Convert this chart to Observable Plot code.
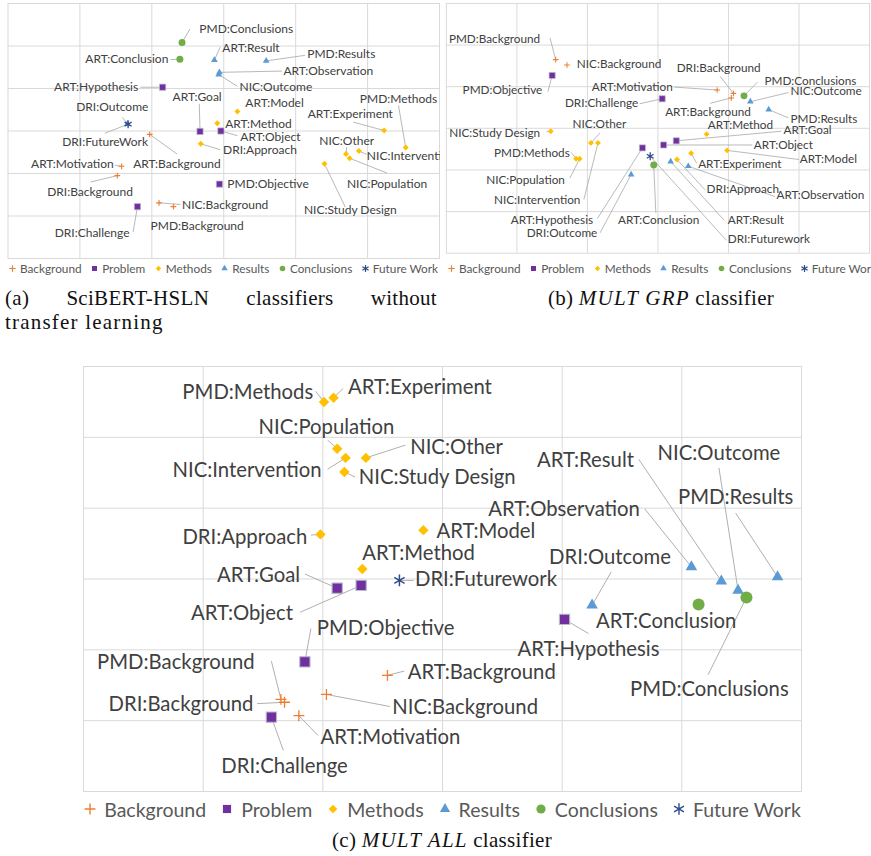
<!DOCTYPE html>
<html><head><meta charset="utf-8">
<script src="https://cdn.jsdelivr.net/npm/d3@7"></script>
<script src="https://cdn.jsdelivr.net/npm/@observablehq/plot@0.6"></script>
<style>
body{margin:0;background:#fff;}
#root{position:relative;width:871px;height:856px;overflow:hidden;font-family:Lato,sans-serif;}
.panel{position:absolute;overflow:hidden;}
.legend{position:absolute;display:flex;justify-content:center;align-items:center;color:#595959;white-space:nowrap;}
.legend .item{display:flex;align-items:center;}
.cap{position:absolute;font-family:"Liberation Serif",serif;color:#111;white-space:nowrap;line-height:24px;}
.cap i{letter-spacing:1.2px;}
</style></head><body><div id="root"></div>
<script>
// ---- data ----
const names = ["ART:Background","ART:Motivation","ART:Hypothesis","ART:Goal","ART:Object","ART:Method","ART:Model","ART:Experiment","ART:Observation","ART:Result","ART:Conclusion",
  "DRI:Background","DRI:Challenge","DRI:Approach","DRI:Outcome","DRI:Futurework",
  "NIC:Background","NIC:Population","NIC:Intervention","NIC:Study Design","NIC:Other","NIC:Outcome",
  "PMD:Background","PMD:Objective","PMD:Methods","PMD:Results","PMD:Conclusions"];
const groups = ["Background","Background","Problem","Problem","Problem","Methods","Methods","Methods","Results","Results","Conclusions",
  "Background","Problem","Methods","Results","Future Work",
  "Background","Methods","Methods","Methods","Methods","Results",
  "Background","Problem","Methods","Results","Conclusions"];
const categories = ["Background","Problem","Methods","Results","Conclusions","Future Work"];

// (a) SciBERT-HSLN without transfer learning
const xA = [1.97,1.58,2.15,2.67,2.96,2.91,3.19,5.23,2.94,2.87,2.39, 1.52,1.80,2.68,1.66,1.67, 2.10,4.75,4.88,4.40,4.70,2.93, 2.30,2.94,5.53,3.59,2.42];
const yA = [2.92,2.17,4.03,2.99,3.00,3.18,3.46,3.01,4.38,4.67,4.69, 1.95,1.22,2.70,3.17,3.16, 1.31,2.36,2.53,2.23,2.46,4.33, 1.22,1.75,2.61,4.65,5.08];
// (b) MULT GRP
const xB = [4.04,3.84,2.78,3.26,3.08,3.69,3.98,3.47,3.43,3.18,2.94, 4.07,3.06,3.27,2.62,2.89, 1.71,1.89,2.15,1.48,2.05,4.31, 1.55,1.50,1.84,4.57,4.22];
const yB = [3.73,3.92,2.53,2.70,2.60,2.86,2.47,2.40,2.09,2.20,2.12, 3.84,3.71,2.25,1.89,2.33, 4.52,2.27,2.65,2.93,2.65,3.64, 4.65,4.27,2.27,3.45,3.78];
// (c) MULT ALL
const xC = [2.54,1.80,4.02,2.12,2.32,2.33,2.84,2.09,5.08,5.33,5.14, 1.68,1.57,1.98,4.25,2.64, 2.03,2.12,2.19,2.18,2.36,5.47, 1.65,1.85,2.01,5.80,5.54];
const yC = [1.64,1.07,2.43,2.87,2.91,3.14,3.69,5.56,3.17,2.97,2.64, 1.26,1.05,3.63,2.63,2.98, 1.37,4.84,4.71,4.51,4.71,2.84, 1.30,1.83,5.50,3.03,2.74];

// ---- label placement (data units): [labelX, labelY, anchor, leaderEndX, leaderEndY, text?] ----
const layoutA = {
 "ART:Background":[2.35,2.21,"middle",2.35,2.46],
 "ART:Motivation":[1.47,2.21,"end",1.49,2.19],
 "ART:Hypothesis":[1.81,4.02,"end",1.84,4.03],
 "ART:Goal":[2.63,3.79,"middle",2.66,3.64],
 "ART:Object":[3.23,2.85,"start",3.19,2.89],
 "ART:Method":[3.02,3.15,"start",null,null],
 "ART:Model":[3.30,3.65,"start",null,null],
 "ART:Experiment":[4.76,3.39,"middle",4.80,3.21],
 "ART:Observation":[3.83,4.40,"start",3.81,4.41],
 "ART:Result":[2.98,4.96,"start",2.95,4.97],
 "ART:Conclusion":[2.23,4.68,"end",2.26,4.68],
 "DRI:Background":[1.14,1.55,"middle",1.15,1.80],
 "DRI:Challenge":[1.69,0.59,"end",1.74,0.62],
 "DRI:Approach":[2.99,2.54,"start",2.95,2.56],
 "DRI:Outcome":[1.45,3.55,"middle",1.59,3.32],
 "DRI:Futurework":[1.35,2.73,"middle",1.35,2.95,"DRI:FutureWork"],
 "NIC:Background":[2.42,1.25,"start",2.40,1.27],
 "NIC:Population":[5.27,1.76,"middle",5.27,2.01],
 "NIC:Intervention":[4.99,2.40,"start",4.99,2.45],
 "NIC:Study Design":[4.76,1.13,"middle",4.69,1.21],
 "NIC:Other":[4.71,2.75,"middle",4.71,2.62],
 "NIC:Outcome":[3.22,4.02,"start",3.19,4.05],
 "PMD:Background":[2.63,0.75,"middle",null,null],
 "PMD:Objective":[3.05,1.74,"start",null,null],
 "PMD:Methods":[5.43,3.74,"middle",5.43,3.60],
 "PMD:Results":[4.16,4.80,"start",4.13,4.78],
 "PMD:Conclusions":[2.66,5.39,"start",2.53,5.40]
};
const layoutB = {
 "ART:Background":[3.71,3.39,"middle",3.74,3.60],
 "ART:Motivation":[3.21,3.98,"end",3.23,3.99],
 "ART:Hypothesis":[2.08,0.80,"end",2.14,0.83],
 "ART:Goal":[4.78,2.96,"start",4.75,2.93],
 "ART:Object":[4.36,2.59,"start",4.34,2.60],
 "ART:Method":[4.17,3.08,"middle",null,null],
 "ART:Model":[5.01,2.26,"start",5.00,2.25],
 "ART:Experiment":[3.57,2.14,"start",3.55,2.16],
 "ART:Observation":[4.68,1.39,"start",4.66,1.36],
 "ART:Result":[3.99,0.80,"start",3.94,0.79],
 "ART:Conclusion":[3.01,0.80,"middle",2.97,0.97],
 "DRI:Background":[3.86,4.45,"middle",3.88,4.25],
 "DRI:Challenge":[2.72,3.60,"end",2.74,3.59],
 "DRI:Approach":[3.69,1.53,"start",3.67,1.52],
 "DRI:Outcome":[2.14,0.47,"end",2.18,0.49],
 "DRI:Futurework":[3.99,0.33,"start",3.97,0.31],
 "NIC:Background":[1.85,4.54,"start",null,null],
 "NIC:Population":[1.68,1.76,"end",1.75,1.80],
 "NIC:Intervention":[1.90,1.27,"end",1.95,1.29],
 "NIC:Study Design":[1.33,2.89,"end",1.42,2.92],
 "NIC:Other":[2.17,3.11,"middle",2.18,2.89],
 "NIC:Outcome":[4.88,3.88,"start",4.85,3.86],
 "PMD:Background":[1.33,5.15,"end",1.47,5.17],
 "PMD:Objective":[1.36,3.91,"end",1.44,3.88],
 "PMD:Methods":[1.75,2.40,"end",1.77,2.42],
 "PMD:Results":[4.88,3.22,"start",4.85,3.25],
 "PMD:Conclusions":[4.51,4.12,"start",4.41,4.11]
};
const layoutC = {
 "ART:Background":[2.71,1.68,"start",2.68,1.70],
 "ART:Motivation":[1.98,0.76,"start",1.96,0.79],
 "ART:Hypothesis":[4.22,2.01,"middle",4.22,2.23],
 "ART:Goal":[1.81,3.05,"end",1.85,3.07],
 "ART:Object":[1.75,2.51,"end",1.81,2.53],
 "ART:Method":[2.80,3.36,"middle",null,null],
 "ART:Model":[2.95,3.67,"start",null,null],
 "ART:Experiment":[2.21,5.71,"start",2.17,5.69],
 "ART:Observation":[4.65,3.98,"end",4.69,3.99],
 "ART:Result":[4.60,4.68,"end",4.64,4.69],
 "ART:Conclusion":[4.87,2.40,"middle",null,null],
 "DRI:Background":[1.42,1.23,"end",1.45,1.24],
 "DRI:Challenge":[1.68,0.35,"middle",1.67,0.58],
 "DRI:Approach":[1.87,3.59,"end",1.90,3.62],
 "DRI:Outcome":[4.40,3.31,"middle",4.41,3.10],
 "DRI:Futurework":[2.77,2.99,"start",2.76,2.98],
 "NIC:Background":[2.58,1.19,"start",2.56,1.20],
 "NIC:Population":[2.03,5.14,"middle",2.04,4.96],
 "NIC:Intervention":[1.99,4.53,"end",2.04,4.55],
 "NIC:Study Design":[2.30,4.44,"start",2.27,4.44],
 "NIC:Other":[2.73,4.86,"start",2.69,4.89],
 "NIC:Outcome":[5.31,4.77,"middle",5.31,4.57],
 "PMD:Background":[1.43,1.82,"end",1.57,1.84],
 "PMD:Objective":[1.95,2.30,"start",1.90,2.30],
 "PMD:Methods":[1.92,5.64,"end",1.94,5.65],
 "PMD:Results":[5.45,4.15,"middle",5.45,3.93],
 "PMD:Conclusions":[5.23,1.44,"middle",5.22,1.65]
};

// ---- styles ----
const palette = ["#ED7D31","#7030A0","#FFC000","#5B9BD5","#70AD47","#2F4B8C"];
const symbolNames = ["plus","square","diamond2","triangle","circle","asterisk"];
const d3Symbols = [d3.symbolPlus,d3.symbolSquare,d3.symbolDiamond2,d3.symbolTriangle,d3.symbolCircle,d3.symbolAsterisk];

function panel(xs, ys, layout, o) {
  const pts = names.map((n,i) => ({name:n, group:groups[i], x:xs[i], y:ys[i]}));
  const lab = pts.map(p => { const L = layout[p.name];
    return {...p, text: L[5] || p.name, lx:L[0], ly:L[1], anchor:L[2], ex:L[3], ey:L[4]}; });
  const leaders = lab.filter(d => d.ex != null);
  const marks = [
    Plot.gridX([1,2,3,4,5], {stroke:"#d9d9d9", strokeOpacity:1}),
    Plot.gridY([1,2,3,4,5], {stroke:"#d9d9d9", strokeOpacity:1}),
    Plot.frame({stroke:"#d9d9d9"}),
    Plot.link(leaders, {x1:"x", y1:"y", x2:"ex", y2:"ey", stroke:"#a6a6a6", strokeWidth:o.lw})
  ];
  categories.forEach((c,k) => {
    const data = pts.filter(p => p.group === c);
    const stroked = (c === "Background" || c === "Future Work");
    marks.push(Plot.dot(data, {x:"x", y:"y", symbol:symbolNames[k], r:o.r[k],
      fill: stroked ? "none" : palette[k],
      stroke: stroked ? palette[k] : (c === "Problem" ? "#b9b9c9" : "none"),
      strokeWidth: stroked ? (k === 5 ? o.aw : o.sw) : o.qw}));
  });
  ["start","middle","end"].forEach(a => marks.push(Plot.text(lab.filter(d => d.anchor === a),
    {x:"lx", y:"ly", text:"text", textAnchor:a, fill:"#404040", fontSize:o.fs})));
  return Plot.plot({width:o.w, height:o.h, marginLeft:o.ml, marginRight:o.mr, marginTop:o.mt, marginBottom:o.mb,
    x:{domain:[0,6], axis:null}, y:{domain:[0,6], axis:null},
    style:{fontFamily:"Lato, sans-serif", background:"transparent", overflow:"hidden"}, marks});
}

function legend(o) {
  const div = document.createElement("div");
  div.className = "legend";
  Object.assign(div.style, {left:o.left+"px", top:o.top+"px", width:o.width+"px", height:o.height+"px", fontSize:o.fs+"px", gap:o.gap+"px"});
  categories.forEach((c,k) => {
    const it = document.createElement("span"); it.className = "item";
    const s = o.box;
    const svg = d3.create("svg").attr("width", s).attr("height", s).style("margin-right", o.sg+"px").style("overflow","visible");
    const stroked = (k === 0 || k === 5);
    svg.append("path").attr("transform", `translate(${s/2},${s/2})`)
      .attr("d", d3.symbol(d3Symbols[k], Math.PI*o.r[k]*o.r[k])())
      .attr("fill", stroked ? "none" : palette[k]).attr("stroke", stroked ? palette[k] : "none").attr("stroke-width", o.sw);
    it.appendChild(svg.node());
    const t = document.createElement("span"); t.textContent = c; it.appendChild(t);
    div.appendChild(it);
  });
  return div;
}

const root = document.getElementById("root");
function place(node, left, top, w, h) {
  const d = document.createElement("div"); d.className = "panel";
  Object.assign(d.style, {left:left+"px", top:top+"px", width:w+"px", height:h+"px"});
  d.appendChild(node); root.appendChild(d);
}
const small = {r:[2.0,3.5,2.7,2.5,3.5,3.8], sw:1.1, aw:1.3, qw:0.7, lw:0.8, fs:12};
const big = {r:[3.6,5.8,4.7,4.3,6.0,5.6], sw:1.3, aw:1.5, qw:1.1, lw:0.9, fs:20.3};

place(panel(xA, yA, layoutA, {...small, w:440, h:262, ml:7.5, mr:1, mt:3, mb:4}), 0, 0, 440, 262);
place(panel(xB, yB, layoutB, {...small, w:440, h:262, ml:6, mr:2, mt:3, mb:4}), 440, 0, 431, 262);
place(panel(xC, yC, layoutC, {...big, w:735, h:440, ml:8, mr:9, mt:8, mb:7}), 75, 358, 735, 440);

root.appendChild(legend({left:0, top:260, width:446, height:17, fs:11.8, gap:8.5, sg:3, box:9, r:[2.2,2.8,2.4,2.4,2.8,3.4], sw:1.2}));
root.appendChild(legend({left:440, top:260, width:444, height:17, fs:11.8, gap:8.5, sg:3, box:9, r:[2.2,2.8,2.4,2.4,2.8,3.4], sw:1.2}));
root.appendChild(legend({left:83, top:797, width:718, height:24, fs:19.5, gap:14, sg:7, box:14, r:[3.6,4.6,3.9,3.8,4.6,5.4], sw:1.4}));

function caption(html, left, top, width, align, ls) {
  const d = document.createElement("div"); d.className = "cap";
  Object.assign(d.style, {left:left+"px", top:top+"px", width:width+"px", fontSize:"21px", textAlign:align, letterSpacing:ls+"px"});
  if (align === "justify") d.style.textAlignLast = "justify";
  d.innerHTML = html; root.appendChild(d);
}
caption("(a) SciBERT-HSLN classifiers without", 5, 286, 432, "justify", 0.3);
caption("transfer learning", 5, 310, 432, "left", 1.2);
caption("(b) <i>MULT GRP</i> classifier", 440, 286, 442, "center", 0.3);
caption("(c) <i>MULT ALL</i> classifier", 0, 828, 884, "center", 0.3);
</script></body></html>
